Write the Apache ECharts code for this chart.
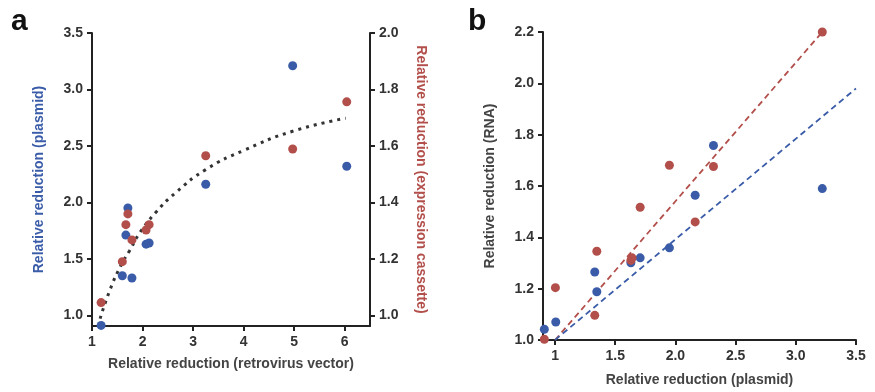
<!DOCTYPE html>
<html>
<head>
<meta charset="utf-8">
<script src="https://cdn.jsdelivr.net/npm/echarts@6/dist/echarts.min.js"></script>
<style>
  html, body { margin: 0; padding: 0; background: #fff; }
  #chart { width: 875px; height: 392px; }
</style>
</head>
<body>
<div id="chart"></div>
<script>
// panel a: retrovirus vector vs plasmid (blue, left) and expression cassette (red, right)
const retroX = [1.18, 1.60, 1.67, 1.71, 1.79, 2.07, 2.13, 3.25, 4.97, 6.04]
const plasmidA = [0.91, 1.35, 1.71, 1.95, 1.33, 1.63, 1.64, 2.16, 3.21, 2.32]
const cassetteA = [1.045, 1.19, 1.321, 1.359, 1.267, 1.302, 1.321, 1.565, 1.589, 1.756]
const fitX = [1.16, 1.36, 1.57, 1.74, 1.96, 2.26, 2.64, 3.25, 4.0, 4.97, 6.02]
const fitY = [0.97, 1.23, 1.44, 1.57, 1.74, 1.91, 2.08, 2.29, 2.46, 2.63, 2.745]
const ticksAX = [1, 2, 3, 4, 5, 6]
const ticksALeft = [1.0, 1.5, 2.0, 2.5, 3.0, 3.5]
const ticksARight = [1.0, 1.2, 1.4, 1.6, 1.8, 2.0]

// panel b: plasmid vs RNA
const blueBX = [0.911, 1.006, 1.33, 1.347, 1.63, 1.707, 1.95, 2.164, 2.316, 3.22]
const blueBY = [1.042, 1.07, 1.265, 1.188, 1.301, 1.32, 1.359, 1.564, 1.758, 1.59]
const redBX = [0.911, 1.003, 1.33, 1.347, 1.63, 1.64, 1.707, 1.95, 2.164, 2.316, 3.22]
const redBY = [1.003, 1.204, 1.096, 1.346, 1.31, 1.32, 1.517, 1.681, 1.46, 1.676, 2.2]
const redLine = [[1.0, 1.0], [3.22, 2.2]]
const blueLine = [[1.0, 1.0], [3.5, 1.98]]
const ticksBX = [1, 1.5, 2.0, 2.5, 3.0, 3.5]
const ticksBY = [1.0, 1.2, 1.4, 1.6, 1.8, 2.0, 2.2]

const BLUE = '#3a5ca8'
const RED = '#b24f4b'
const FONT = 'Liberation Sans'

function zip(xs, ys) {
  return xs.map((x, i) => [x, ys[i]])
}

function axisBase(ticks, fmt, nameColor) {
  return {
    type: 'value',
    splitLine: { show: false },
    axisLine: { show: true, lineStyle: { color: '#222', width: 2 } },
    axisTick: {
      show: true,
      length: 5,
      customValues: ticks,
      lineStyle: { color: '#222', width: 2 },
    },
    axisLabel: {
      customValues: ticks,
      color: '#333',
      fontFamily: FONT,
      fontWeight: 'bold',
      fontSize: 14,
      margin: 9,
      formatter: fmt,
    },
    nameLocation: 'middle',
    nameTextStyle: {
      fontFamily: FONT,
      fontWeight: 'bold',
      fontSize: 14,
      color: nameColor || '#444',
    },
  }
}

const oneDec = (v) => v.toFixed(1)

const myChart = echarts.init(document.getElementById('chart'))

const option = {
  animation: false,
  title: [
    {
      text: 'a',
      left: 6,
      top: 2,
      textStyle: { fontFamily: FONT, fontWeight: 'bold', fontSize: 30, color: '#111' },
    },
    {
      text: 'b',
      left: 463,
      top: 2,
      textStyle: { fontFamily: FONT, fontWeight: 'bold', fontSize: 30, color: '#111' },
    },
  ],
  grid: [
    { left: 92, right: 505, top: 33, bottom: 66 },
    { left: 543, right: 19, top: 32, bottom: 48 },
  ],
  xAxis: [
    Object.assign(axisBase(ticksAX, (v) => String(v)), {
      gridIndex: 0,
      min: 1,
      max: 6.5,
      name: 'Relative reduction (retrovirus vector)',
      nameGap: 31,
    }),
    Object.assign(axisBase(ticksBX, (v) => (v === 1 ? '1' : oneDec(v))), {
      gridIndex: 1,
      min: 0.9,
      max: 3.5,
      name: 'Relative reduction (plasmid)',
      nameGap: 33,
    }),
  ],
  yAxis: [
    Object.assign(axisBase(ticksALeft, oneDec, BLUE), {
      gridIndex: 0,
      min: 0.905,
      max: 3.5,
      name: 'Relative reduction (plasmid)',
      nameGap: 46,
    }),
    Object.assign(axisBase(ticksARight, oneDec, RED), {
      gridIndex: 0,
      position: 'right',
      min: 0.962,
      max: 2.0,
      name: 'Relative reduction (expression cassette)',
      nameGap: 44,
      nameRotate: -90,
    }),
    Object.assign(axisBase(ticksBY, oneDec), {
      gridIndex: 1,
      min: 1.0,
      max: 2.2,
      name: 'Relative reduction (RNA)',
      nameGap: 46,
    }),
  ],
  series: [
    {
      type: 'line',
      xAxisIndex: 0,
      yAxisIndex: 0,
      data: zip(fitX, fitY),
      smooth: true,
      symbol: 'none',
      lineStyle: { color: '#333', width: 3, type: [3, 5] },
      z: 1,
    },
    {
      type: 'scatter',
      xAxisIndex: 0,
      yAxisIndex: 0,
      data: zip(retroX, plasmidA),
      symbolSize: 9,
      itemStyle: { color: BLUE, opacity: 1 },
      z: 3,
    },
    {
      type: 'scatter',
      xAxisIndex: 0,
      yAxisIndex: 1,
      data: zip(retroX, cassetteA),
      symbolSize: 9,
      itemStyle: { color: RED, opacity: 1 },
      z: 3,
    },
    {
      type: 'line',
      xAxisIndex: 1,
      yAxisIndex: 2,
      data: redLine,
      symbol: 'none',
      lineStyle: { color: RED, width: 1.8, type: [6, 4] },
      z: 1,
    },
    {
      type: 'line',
      xAxisIndex: 1,
      yAxisIndex: 2,
      data: blueLine,
      symbol: 'none',
      lineStyle: { color: BLUE, width: 1.8, type: [6, 4] },
      z: 1,
    },
    {
      type: 'scatter',
      xAxisIndex: 1,
      yAxisIndex: 2,
      data: zip(blueBX, blueBY),
      symbolSize: 9,
      itemStyle: { color: BLUE, opacity: 1 },
      z: 3,
    },
    {
      type: 'scatter',
      xAxisIndex: 1,
      yAxisIndex: 2,
      data: zip(redBX, redBY),
      symbolSize: 9,
      itemStyle: { color: RED, opacity: 1 },
      z: 3,
    },
  ],
}

myChart.setOption(option)
</script>
</body>
</html>
